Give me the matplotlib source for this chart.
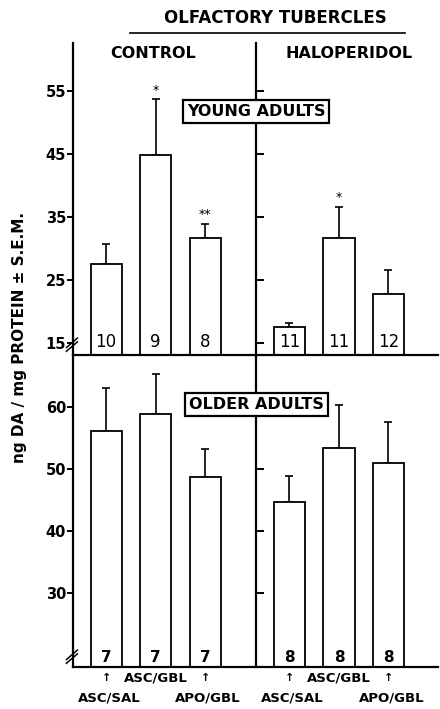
import matplotlib
matplotlib.use("Agg")
import matplotlib.pyplot as plt
from matplotlib.lines import Line2D

# bar positions: three CONTROL bars, then three HALOPERIDOL bars
xpos = [1.0, 2.0, 3.0, 4.7, 5.7, 6.7]
divider = 4.03

young_mean = [27.5, 44.8, 31.7, 17.5, 31.7, 22.8]
young_sem = [3.2, 8.9, 2.2, 0.7, 4.9, 3.8]
young_n = ["10", "9", "8", "11", "11", "12"]
young_sig = ["", "*", "**", "", "*", ""]

older_mean = [56.1, 58.9, 48.7, 44.7, 53.4, 51.0]
older_sem = [7.0, 6.4, 4.5, 4.2, 6.9, 6.6]
older_n = ["7", "7", "7", "8", "8", "8"]

young_ticks = [15, 25, 35, 45, 55]
older_ticks = [30, 40, 50, 60]

W, H = 440, 709


def fx(x):
    return x / W


def fy(y):
    return 1 - y / H


plt.rcParams["font.family"] = "DejaVu Sans"
plt.rcParams["font.weight"] = "bold"

fig = plt.figure(figsize=(4.4, 7.09), dpi=100)
ax1 = fig.add_axes([fx(73), fy(355), fx(438) - fx(73), fy(43) - fy(355)])
ax2 = fig.add_axes([fx(73), fy(667), fx(438) - fx(73), fy(355) - fy(667)])

for ax, mean, sem, ylim, ticks in [
    (ax1, young_mean, young_sem, (13.1, 62.6), young_ticks),
    (ax2, older_mean, older_sem, (18.06, 68.4), older_ticks),
]:
    ax.bar(xpos, mean, width=0.63, color="white", edgecolor="black",
           linewidth=1.3, zorder=2)
    ax.errorbar(xpos, mean, yerr=[[0] * len(sem), sem], fmt="none",
                ecolor="black", elinewidth=1.2, capsize=3, capthick=1.2,
                zorder=1)
    ax.set_xlim(0.33, 7.7)
    ax.set_ylim(*ylim)
    ax.set_yticks(ticks)
    ax.set_xticks([])
    ax.spines["top"].set_visible(False)
    ax.spines["right"].set_position(("data", divider))
    for s in ["left", "right", "bottom"]:
        ax.spines[s].set_linewidth(1.6)
    ax.tick_params(axis="y", left=True, right=True, labelright=False,
                   direction="out", length=4, width=1.4, labelsize=10.5,
                   pad=1)
    for lab in ax.get_yticklabels():
        lab.set_fontweight("bold")
    for t in ax.yaxis.get_major_ticks():
        t.tick2line.set_markersize(6)
    ax.patch.set_alpha(0)

# counts inside the bars
for x, n in zip(xpos, young_n):
    ax1.text(x, 15.1, n, ha="center", va="center", fontsize=12,
             fontweight="normal")
for x, n in zip(xpos, older_n):
    ax2.text(x, 19.6, n, ha="center", va="center", fontsize=11)

# significance marks
for x, m, s, sig in zip(xpos, young_mean, young_sem, young_sig):
    if sig:
        ax1.text(x, m + s + 0.4, sig, ha="center", va="bottom", fontsize=9,
                 fontweight="normal")

# axis breaks
for ax in (ax1, ax2):
    tr = ax.transAxes
    for dy in (0.0, 0.012):
        ax.plot([-0.018, 0.012], [0.012 + dy, 0.042 + dy], color="black",
                lw=1.1, transform=tr, clip_on=False)

# panel boxes
ax1.text(divider, 51.7, "YOUNG ADULTS", ha="center", va="center",
         fontsize=11.5,
         bbox=dict(boxstyle="square,pad=0.25", fc="white", ec="black",
                   lw=1.6), zorder=5)
ax2.text(divider, 60.4, "OLDER ADULTS", ha="center", va="center",
         fontsize=11.5,
         bbox=dict(boxstyle="square,pad=0.25", fc="white", ec="black",
                   lw=1.6), zorder=5)

# group labels under the bars
tr2 = ax2.get_xaxis_transform()
row1 = ["\u2191", "ASC/GBL", "\u2191", "\u2191", "ASC/GBL", "\u2191"]
row2 = ["ASC/SAL", "", "APO/GBL", "ASC/SAL", "", "APO/GBL"]
for x, a, b in zip(xpos, row1, row2):
    ax2.text(x, -0.036, a, ha="center", va="center", transform=tr2,
             fontsize=8 if a == "\u2191" else 9.5, fontweight="bold")
    if b:
        ax2.text(x + 0.06, -0.10, b, ha="center", va="center",
                 transform=tr2, fontsize=9.5)

# headers
fig.text(fx(275), fy(18), "OLFACTORY TUBERCLES", ha="center", va="center",
         fontsize=12)
fig.add_artist(Line2D([fx(130), fx(405)], [fy(33), fy(33)], color="black",
                      lw=1.2))
fig.text(fx(153), fy(53), "CONTROL", ha="center", va="center", fontsize=11.5)
fig.text(fx(349), fy(53), "HALOPERIDOL", ha="center", va="center",
         fontsize=11.5)
fig.text(fx(20), fy(338), "ng DA / mg PROTEIN \u00b1 S.E.M.", ha="center",
         va="center", rotation=90, fontsize=11)

fig.savefig("out.png", dpi=100)
